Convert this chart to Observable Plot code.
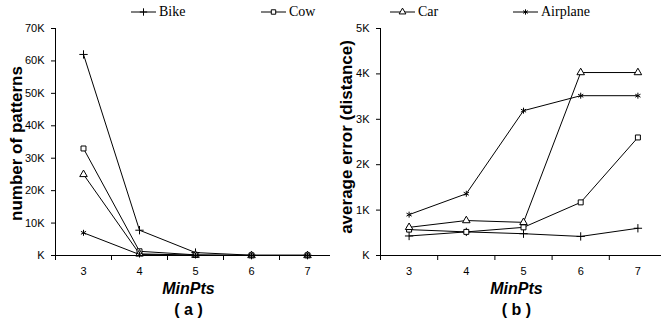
<!DOCTYPE html>
<html><head><meta charset="utf-8">
<script src="https://cdn.jsdelivr.net/npm/d3@7"></script>
<script src="https://cdn.jsdelivr.net/npm/@observablehq/plot@0.6"></script>
<style>
body{margin:0;background:#fff;}
#wrap{position:relative;width:661px;height:329px;overflow:hidden;background:#fff;}
#legend{position:absolute;left:0;top:0;width:661px;height:22px;font-family:"Liberation Serif","Times New Roman",serif;font-size:14px;color:#000;}
.item{position:absolute;top:3px;height:18px;display:flex;align-items:center;white-space:nowrap;}
.item svg{display:block;margin-right:3px;}
#left{position:absolute;left:0;top:22px;width:330px;height:307px;}
#right{position:absolute;left:330px;top:22px;width:331px;height:307px;}
</style></head><body>
<div id="wrap"><div id="legend"></div><div id="left"></div><div id="right"></div></div>
<script>
// ---- data ----
const minPts = [3, 4, 5, 6, 7];
const seriesNames = ["Bike", "Cow", "Car", "Airplane"];
const seriesSymbols = ["plus", "square", "triangle", "asterisk"];
const seriesHollow = [false, true, true, false];

// (a) number of patterns
const patternsBike     = [62000, 7800, 900, 100, 100];
const patternsCow      = [33000, 1300, 200, 50, 50];
const patternsCar      = [25000, 500, 100, 0, 0];
const patternsAirplane = [7000, 300, 0, 0, 0];

// (b) average error (distance)
const errorBike     = [430, 520, 480, 420, 600];
const errorCow      = [570, 520, 620, 1170, 2600];
const errorCar      = [620, 770, 730, 4030, 4030];
const errorAirplane = [900, 1360, 3190, 3520, 3520];

const leftTicks  = [0, 10000, 20000, 30000, 40000, 50000, 60000, 70000];
const rightTicks = [0, 1000, 2000, 3000, 4000, 5000];
const bandEdges  = [2.5, 3.5, 4.5, 5.5, 6.5, 7.5];
const kFormat = d => d === 0 ? "K" : (d / 1000) + "K";

// ---- legend ----
const legendLefts = [131, 261, 390, 513];
const legend = document.getElementById("legend");
const symMap = {plus: d3.symbolPlus, square: d3.symbolSquare, triangle: d3.symbolTriangle, asterisk: d3.symbolAsterisk};
seriesNames.forEach((name, i) => {
  const item = document.createElement("div");
  item.className = "item";
  item.style.left = legendLefts[i] + "px";
  const r = 2.5;
  const path = d3.symbol(symMap[seriesSymbols[i]], Math.PI * r * r)();
  item.innerHTML = `<svg width="25" height="12" viewBox="0 0 25 12">
    <line x1="0" x2="25" y1="6" y2="6" stroke="black" stroke-width="1"/>
    <path d="${path}" transform="translate(12.5,6)" fill="${seriesHollow[i] ? "white" : "none"}" stroke="black" stroke-width="1"/>
  </svg><span>${name}</span>`;
  legend.appendChild(item);
});

// ---- charts ----
function build(values, name) { return minPts.map((x, j) => ({x, y: values[j], name})); }

function chart({series, yMax, ticks, width, marginLeft, xRange, yTitle, sub, titleDx, titleDy}) {
  const marks = [];
  series.forEach((data) => {
    marks.push(Plot.line(data, {x: "x", y: "y", stroke: "black", strokeWidth: 1}));
  });
  series.forEach((data, i) => {
    marks.push(Plot.dot(data, {x: "x", y: "y", symbol: seriesSymbols[i], r: 2.8,
      stroke: "black", strokeWidth: 1, fill: seriesHollow[i] ? "white" : "none"}));
  });
  marks.push(
    Plot.ruleY([0], {x1: 2.5, x2: 7.5, stroke: "black", strokeWidth: 1}),
    Plot.ruleX([2.5], {y1: 0, y2: yMax, stroke: "black", strokeWidth: 1}),
    Plot.axisY({ticks, tickSize: 4, tickPadding: 7, tickFormat: kFormat, label: null, fontSize: 11}),
    Plot.axisX({ticks: bandEdges, tickSize: 5, tickFormat: () => "", label: null}),
    Plot.axisX({ticks: minPts, tickSize: 0, tickPadding: 12, tickFormat: d => String(d), label: null, fontSize: 11}),
    Plot.text([yTitle], {frameAnchor: "left", rotate: -90, dx: titleDx, dy: titleDy, fontSize: 17, fontWeight: "bold", textAnchor: "middle"}),
    Plot.text(["MinPts"], {frameAnchor: "bottom", dx: -4.5, dy: 38, fontSize: 16, fontWeight: "bold", fontStyle: "italic"}),
    Plot.text([sub], {frameAnchor: "bottom", dx: -4.5, dy: 59, fontSize: 16, fontWeight: "bold"})
  );
  return Plot.plot({
    width, height: 307,
    marginTop: 6, marginBottom: 74, marginLeft, marginRight: 0,
    x: {domain: [2.5, 7.5], range: xRange, axis: null},
    y: {domain: [0, yMax], axis: null},
    style: {fontFamily: "'Liberation Sans', Arial, sans-serif", fontSize: "11px", color: "black", background: "white", overflow: "visible"},
    marks
  });
}

document.getElementById("left").appendChild(chart({
  series: [build(patternsBike, "Bike"), build(patternsCow, "Cow"), build(patternsCar, "Car"), build(patternsAirplane, "Airplane")],
  yMax: 70000, ticks: leftTicks, width: 330, marginLeft: 55, xRange: [55, 335],
  yTitle: "number of patterns", sub: "( a )", titleDx: -39, titleDy: 1.5
}));
document.getElementById("right").appendChild(chart({
  series: [build(errorBike, "Bike"), build(errorCow, "Cow"), build(errorCar, "Car"), build(errorAirplane, "Airplane")],
  yMax: 5000, ticks: rightTicks, width: 331, marginLeft: 50, xRange: [50, 336],
  yTitle: "average error (distance)", sub: "( b )", titleDx: -34, titleDy: -5
}));
</script>
</body></html>
